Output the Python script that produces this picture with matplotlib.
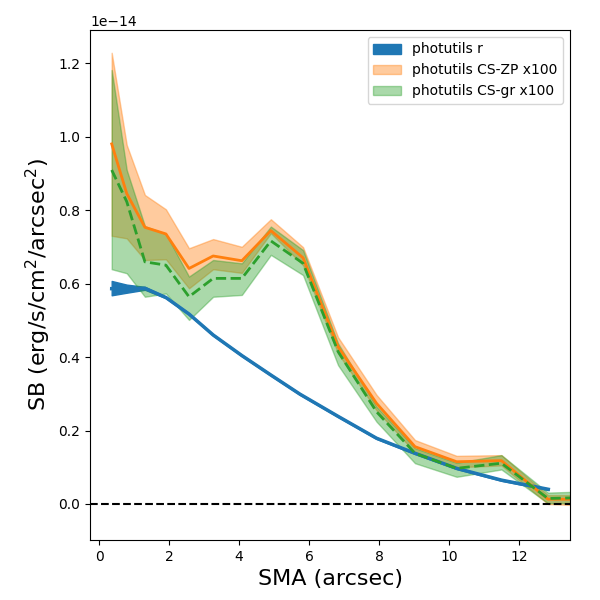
import numpy as np
import matplotlib
matplotlib.use("Agg")
import matplotlib.pyplot as plt

# photutils r (blue)
r_sma = [0.36, 0.79, 1.31, 1.91, 2.57, 3.26, 4.08, 4.91, 5.74, 6.84, 7.93, 9.03, 10.22, 11.5, 12.84]
r_sb = [0.586, 0.585, 0.587, 0.562, 0.517, 0.460, 0.404, 0.351, 0.299, 0.238, 0.179, 0.138, 0.097, 0.065, 0.040]
r_hi = [0.607, 0.597, 0.591, 0.564, 0.519, 0.462, 0.406, 0.353, 0.301, 0.240, 0.181, 0.140, 0.099, 0.067, 0.042]
r_lo = [0.568, 0.575, 0.583, 0.560, 0.515, 0.458, 0.402, 0.349, 0.297, 0.236, 0.177, 0.136, 0.095, 0.063, 0.038]

# CS profiles (x100)
cs_sma = [0.36, 0.79, 1.31, 1.91, 2.57, 3.26, 4.08, 4.91, 5.83, 6.83, 7.93, 9.03, 10.22, 11.5, 12.83, 14.2]

zp_sb = [0.980, 0.845, 0.753, 0.735, 0.641, 0.675, 0.662, 0.744, 0.670, 0.428, 0.274, 0.156, 0.115, 0.118, 0.013, 0.013]
zp_hi = [1.228, 0.977, 0.841, 0.802, 0.696, 0.721, 0.700, 0.775, 0.699, 0.454, 0.297, 0.174, 0.131, 0.133, 0.024, 0.024]
zp_lo = [0.730, 0.723, 0.664, 0.666, 0.587, 0.639, 0.629, 0.737, 0.650, 0.410, 0.255, 0.140, 0.100, 0.105, 0.000, -0.005]

gr_sb = [0.909, 0.823, 0.659, 0.650, 0.564, 0.614, 0.614, 0.716, 0.655, 0.415, 0.251, 0.138, 0.097, 0.111, 0.015, 0.018]
gr_hi = [1.181, 0.909, 0.756, 0.735, 0.619, 0.664, 0.655, 0.755, 0.691, 0.437, 0.265, 0.152, 0.112, 0.133, 0.031, 0.035]
gr_lo = [0.639, 0.628, 0.564, 0.573, 0.501, 0.564, 0.569, 0.678, 0.623, 0.378, 0.224, 0.111, 0.074, 0.094, 0.002, 0.003]

scale = 1e-14
s = lambda a: np.array(a) * scale

fig = plt.figure(figsize=(6, 6), dpi=100)
ax = fig.add_axes([0.15, 0.10, 0.80, 0.85])

ax.fill_between(r_sma, s(r_lo), s(r_hi), color='C0', alpha=1.0, label='photutils r')
ax.plot(r_sma, s(r_sb), color='C0', lw=2.5)

ax.fill_between(cs_sma, s(zp_lo), s(zp_hi), color='C1', alpha=0.4, label='photutils CS-ZP x100')
ax.plot(cs_sma, s(zp_sb), color='C1', lw=2)

ax.fill_between(cs_sma, s(gr_lo), s(gr_hi), color='C2', alpha=0.4, label='photutils CS-gr x100')
ax.plot(cs_sma, s(gr_sb), color='C2', lw=2, ls='--')

ax.axhline(0, color='k', ls='--', lw=1.5)

ax.set_xlim(-0.26, 13.46)
ax.set_ylim(-0.098e-14, 1.29e-14)
ax.set_xlabel('SMA (arcsec)', fontsize=16)
ax.set_ylabel('SB (erg/s/cm$^2$/arcsec$^2$)', fontsize=16)
ax.legend(loc='upper right')

fig.savefig('out.png', dpi=100)
